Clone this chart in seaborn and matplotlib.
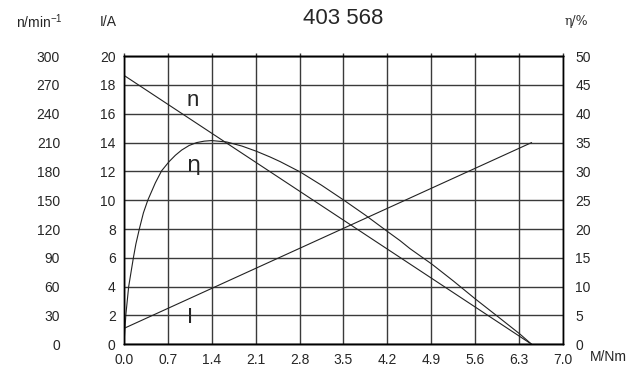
import matplotlib
matplotlib.use("Agg")
import matplotlib.pyplot as plt
import seaborn as sns
import pandas as pd

# motor characteristic 403 568
torque_line = [0.0, 6.5]          # M/Nm, ends of the straight lines
speed_rpm = [280, 0]              # n/min^-1
current_a = [1.1, 14.0]           # I/A

eta_torque = [0.0, 0.03, 0.075, 0.15, 0.19, 0.245, 0.31, 0.38, 0.50, 0.60, 0.72,
              0.82, 0.92, 1.04, 1.16, 1.28, 1.40, 1.64, 1.88, 2.11, 2.33, 2.49,
              2.81, 3.15, 3.50, 3.85, 4.21, 4.40, 4.56, 4.91, 5.25, 5.61, 5.95,
              6.31, 6.5]
eta_pct = [0, 5.1, 10, 15, 17.4, 20, 22.8, 25, 28.0, 30.1, 31.7,
           32.8, 33.7, 34.5, 35.0, 35.25, 35.35, 35.1, 34.4, 33.5, 32.5, 31.7,
           29.9, 27.6, 25.05, 22.4, 19.5, 18.0, 16.6, 13.9, 11.0, 7.8, 4.9,
           1.8, 0]

x_ticks = [0.0, 0.7, 1.4, 2.1, 2.8, 3.5, 4.2, 4.9, 5.6, 6.3, 7.0]
i_ticks = list(range(0, 21, 2))
n_ticks = list(range(0, 301, 30))
eta_ticks = list(range(0, 51, 5))

sns.set_style("white")
plt.rcParams["font.family"] = ["Liberation Sans", "DejaVu Sans"]
plt.rcParams["mathtext.default"] = "regular"

fig = plt.figure(figsize=(6.39, 3.67), dpi=100)
ax = fig.add_axes([0.194, 0.062, 0.687, 0.785])
ax_n = ax.twinx()
ax_eta = ax.twinx()

lines = pd.DataFrame({"M": torque_line, "n": speed_rpm, "I": current_a})
eta_df = pd.DataFrame({"M": eta_torque, "eta": eta_pct})

lw = 0.8
sns.lineplot(data=lines, x="M", y="I", ax=ax, color="#222222", lw=lw)
sns.lineplot(data=lines, x="M", y="n", ax=ax_n, color="#222222", lw=lw)
sns.lineplot(data=eta_df, x="M", y="eta", ax=ax_eta, color="#222222", lw=lw,
             sort=False)

ax.set_xlim(0, 7)
ax.set_ylim(0, 20)
ax_n.set_ylim(0, 300)
ax_eta.set_ylim(0, 50)

ax.set_xticks(x_ticks)
ax.set_xticklabels([f"{v:.1f}" for v in x_ticks])
ax.set_yticks(i_ticks)
ax_n.set_yticks(n_ticks)
ax_eta.set_yticks(eta_ticks)

ax.grid(True, color="#3a3a3a", lw=1.0)
ax.set_axisbelow(True)
for a in (ax, ax_n, ax_eta):
    a.set_xlabel("")
    a.set_ylabel("")
    for s in a.spines.values():
        s.set_color("black")
        s.set_linewidth(1.0)

ax.tick_params(axis="x", length=0, pad=4, labelsize=10)
ax.tick_params(axis="x", top=True, direction="out", length=2, width=1,
               color="#333333", labeltop=False)
ax.tick_params(axis="y", length=0, pad=6, labelsize=10)

# speed axis on the far left
ax_n.yaxis.set_ticks_position("left")
ax_n.spines["left"].set_position(("outward", 40))
ax_n.spines["left"].set_visible(False)
ax_n.spines["right"].set_visible(False)
ax_n.tick_params(axis="y", length=0, pad=6, labelsize=10)

ax_eta.tick_params(axis="y", length=0, pad=9, labelsize=10)

# curve names
ax.text(1.10, 16.9, "n", fontsize=16, ha="center", va="center")
ax.text(1.12, 12.45, "η", fontsize=16, ha="center", va="center",
        family=["DejaVu Sans"])
ax.text(1.05, 1.83, "I", fontsize=16, ha="center", va="center")

fig.text(343.5 / 639, 1 - 19 / 367, "403 568", fontsize=16, ha="center", va="center")
fig.text(63 / 639, 1 - 22 / 367, r"n/min$^{-1}$", fontsize=10, ha="right", va="center")
fig.text(117 / 639, 1 - 22 / 367, "I/A", fontsize=10, ha="right", va="center")
fig.text(565 / 639, 1 - 22 / 367, "η/%", fontsize=9, ha="left", va="center",
         family=["DejaVu Serif"])
fig.text(608 / 639, 1 - 357 / 367, "M/Nm", fontsize=10, ha="center", va="center")

fig.savefig("out.png", dpi=100)
